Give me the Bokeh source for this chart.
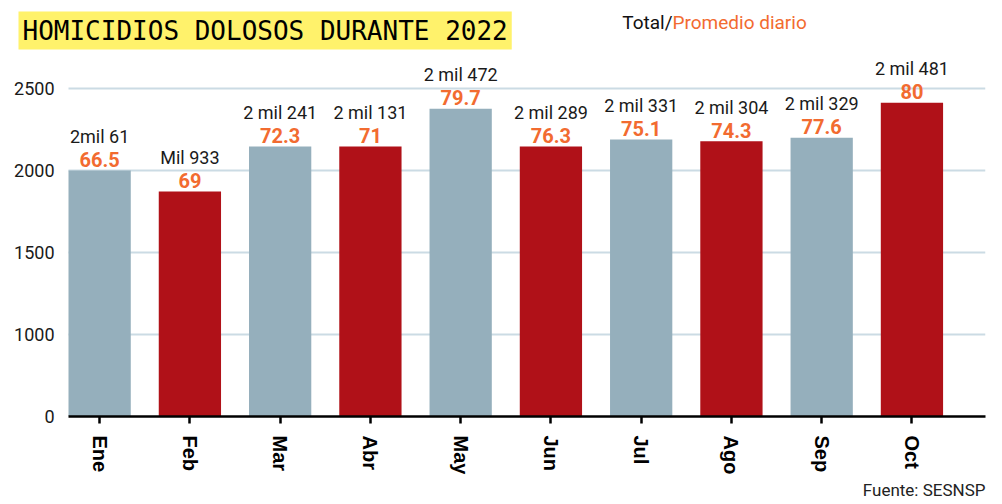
from bokeh.plotting import figure
from bokeh.models import Range1d, FixedTicker, Label, ColumnDataSource, Title
from bokeh.core.properties import value
from bokeh.embed import file_html
from bokeh.resources import INLINE

# ---- data ----
months = ["Ene", "Feb", "Mar", "Abr", "May", "Jun", "Jul", "Ago", "Sep", "Oct"]
bar_values = [2000, 1872, 2146, 2146, 2376, 2146, 2189, 2179, 2199, 2413]
total_labels = ["2mil 61", "Mil 933", "2 mil 241", "2 mil 131", "2 mil 472",
                "2 mil 289", "2 mil 331", "2 mil 304", "2 mil 329", "2 mil 481"]
daily_avg = ["66.5", "69", "72.3", "71", "79.7", "76.3", "75.1", "74.3", "77.6", "80"]
y_ticks = [500, 1000, 1500, 2000, 2500]
y_tick_labels = ["0", "1000", "1500", "2000", "2500"]

GRAY = "#95afbc"
RED = "#b01118"
ORANGE = "#f26b30"
colors = [GRAY if i % 2 == 0 else RED for i in range(len(months))]
idx = list(range(len(months)))

W, H = 1002, 504
FL, FR, FT, FB = 10, 17, 0, 88   # borders (px)
AXIS_LEFT_PX = 68                # where x axis line / grid lines begin
axis_x0, x_end = -0.345, 9.815
unit = (W - FR - AXIS_LEFT_PX) / (x_end - axis_x0)
x_start = axis_x0 - (AXIS_LEFT_PX - FL) / unit
y_start = 500
px_per_500 = 82.0
frame_h = H - FT - FB
y_end = y_start + frame_h * 500 / px_per_500

src = ColumnDataSource(dict(x=idx, top=bar_values, color=colors,
                            tot=total_labels, avg=daily_avg))

p = figure(width=W, height=H, output_backend="svg", toolbar_location=None,
           x_range=Range1d(x_start, x_end), y_range=Range1d(y_start, y_end),
           min_border_left=FL, min_border_right=FR, min_border_top=FT,
           min_border_bottom=FB, outline_line_color=None,
           background_fill_color="white", border_fill_color="white")

p.vbar(x="x", top="top", bottom=y_start, width=0.69, color="color",
       line_color=None, source=src)

p.text(x="x", y="top", text="avg", source=src, y_offset=-11,
       text_align="center", text_baseline="alphabetic",
       text_font=value("Roboto"), text_font_style="bold",
       text_font_size="20px", text_color=ORANGE)
p.text(x="x", y="top", text="tot", source=src, y_offset=-34,
       text_align="center", text_baseline="alphabetic",
       text_font=value("Roboto"), text_font_size="18px", text_color="#1a1a1a")

# x axis
p.xaxis.ticker = FixedTicker(ticks=idx)
p.xaxis.bounds = (axis_x0, x_end)
p.xaxis.major_label_overrides = {i: m for i, m in zip(idx, months)}
p.xaxis.major_label_orientation = "vertical"
p.xaxis.major_label_text_font = "Liberation Sans"
p.xaxis.major_label_text_font_style = "bold"
p.xaxis.major_label_text_font_size = "20px"
p.xaxis.major_label_text_color = "black"
p.xaxis.axis_line_color = "black"
p.xaxis.axis_line_width = 2.5
p.xaxis.major_tick_line_color = "black"
p.xaxis.major_tick_line_width = 2.5
p.xaxis.major_tick_out = 7
p.xaxis.major_tick_in = 0
p.xaxis.minor_tick_line_color = None
p.xaxis.major_label_standoff = 12

# y axis (labels pulled to the right, next to the grid)
p.yaxis.ticker = FixedTicker(ticks=y_ticks)
p.yaxis.major_label_overrides = {t: l for t, l in zip(y_ticks, y_tick_labels)}
p.yaxis.axis_line_color = None
p.yaxis.major_tick_line_color = None
p.yaxis.minor_tick_line_color = None
p.yaxis.major_tick_out = 0
p.yaxis.major_tick_in = 0
p.yaxis.major_label_text_font = "Roboto"
p.yaxis.major_label_text_font_size = "18px"
p.yaxis.major_label_text_color = "#1a1a1a"
p.yaxis.major_label_standoff = -(AXIS_LEFT_PX - 14 - FL)

p.xgrid.grid_line_color = None
p.ygrid.grid_line_color = "#cbdbe4"
p.ygrid.grid_line_width = 2
p.ygrid.cross_bounds = (axis_x0, x_end)


def px2x(px):
    return x_start + (px - FL) / unit


def py2y(py):
    return y_start + ((H - FB) - py) * 500 / px_per_500


p.add_layout(Label(x=px2x(18), y=py2y(30), text="HOMICIDIOS DOLOSOS DURANTE 2022",
                   text_font="DejaVu Sans Mono", text_font_size="26px",
                   text_color="black", text_align="left", text_baseline="middle",
                   background_fill_color="#fff26b", background_fill_alpha=1.0,
                   padding=4))
p.add_layout(Label(x=px2x(672), y=py2y(22), text="Total/",
                   text_font="Roboto", text_font_size="19px",
                   text_color="#111111", text_align="right", text_baseline="middle"))
p.add_layout(Label(x=px2x(672), y=py2y(22), text="Promedio diario",
                   text_font="Roboto", text_font_size="19px",
                   text_color=ORANGE, text_align="left", text_baseline="middle"))

p.add_layout(Title(text="Fuente: SESNSP", align="right", text_font="Roboto",
                   text_font_size="17px", text_font_style="normal",
                   text_color="#222222", standoff=0, offset=0), "below")

open("out.html", "w").write(file_html(p, INLINE))
